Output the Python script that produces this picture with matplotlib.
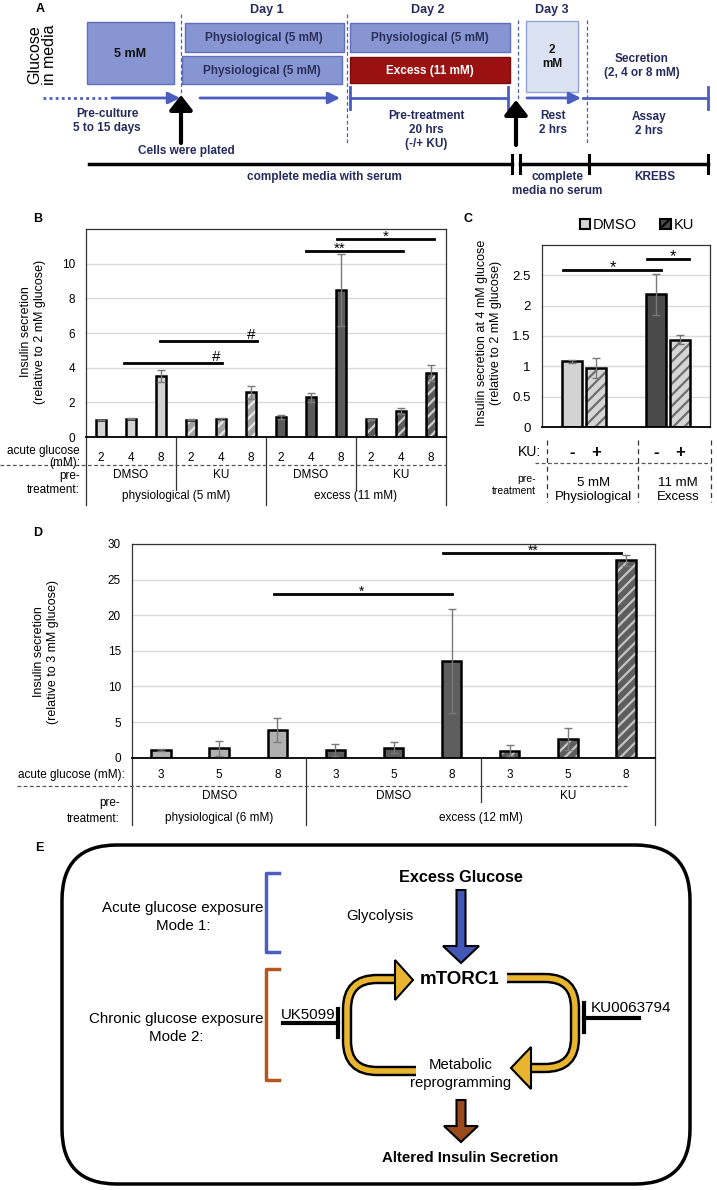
import numpy as np
import matplotlib
matplotlib.use('Agg')
import matplotlib.pyplot as plt
import matplotlib.transforms as mtransforms
from matplotlib.patches import Rectangle, FancyBboxPatch, FancyArrow, Polygon, Patch, PathPatch
from matplotlib.path import Path
from matplotlib.ticker import FuncFormatter

plt.rcParams['font.family'] = ['Liberation Sans', 'DejaVu Sans']
plt.rcParams['hatch.linewidth'] = 1.6

# ---- data ---------------------------------------------------------------
b_acute = ['2', '4', '8']
b_drugs = ['DMSO', 'KU', 'DMSO', 'KU']
b_pretreat = ['physiological (5 mM)', 'excess (11 mM)']
b_vals = [0.98, 1.05, 3.52, 1.00, 1.05, 2.57, 1.13, 2.28, 8.49, 1.02, 1.49, 3.70]
b_err = [0.02, 0.03, 0.35, 0.02, 0.05, 0.36, 0.12, 0.25, 2.07, 0.03, 0.17, 0.48]
# (x from, x to, y, label x, label)
b_sig = [(0.77, 4.03, 4.25, 3.85, '#'), (1.97, 5.2, 5.53, 5.0, '#'),
         (6.83, 10.07, 10.75, 7.97, '**'), (7.87, 11.1, 11.44, 9.5, '*')]

c_pretreat = ['5 mM\nPhysiological', '11 mM\nExcess']
c_dmso = [1.08, 2.19]
c_dmso_err = [0.02, 0.34]
c_ku = [0.97, 1.44]
c_ku_err = [0.17, 0.08]
c_sig = [(-0.25, 0.92, 2.59, 0.345, '*'), (0.75, 1.25, 2.77, 1.06, '*')]

d_acute = ['3', '5', '8']
d_drugs = ['DMSO', 'DMSO', 'KU']
d_pretreat = ['physiological (6 mM)', 'excess (12 mM)']
d_vals = [1.08, 1.32, 3.89, 1.08, 1.40, 13.6, 1.00, 2.63, 27.7]
d_err = [0.20, 1.08, 1.64, 0.84, 0.80, 7.30, 0.80, 1.57, 0.80]
d_sig = [(1.94, 5.0, 23.0, 3.45, '*'), (4.85, 7.92, 28.75, 6.4, '**')]

W, H = 717, 1190
fig = plt.figure(figsize=(W / 100, H / 100), dpi=100)
ov = fig.add_axes([0, 0, 1, 1])
ov.set_xlim(0, W)
ov.set_ylim(H, 0)
ov.axis('off')


def add_ax(left, top, right, bottom):
    return fig.add_axes([left / W, 1 - bottom / H, (right - left) / W, (bottom - top) / H])


def style_ax(ax, ylim, yticks, fs):
    ax.set_ylim(*ylim)
    ax.set_yticks(yticks)
    ax.yaxis.set_major_formatter(FuncFormatter(lambda v, p: f'{v:g}'))
    ax.set_xticks([])
    ax.tick_params(axis='y', length=0, labelsize=fs, pad=8)
    ax.grid(axis='y', color='#d9d9d9', lw=1)
    ax.set_axisbelow(True)
    for s in ax.spines.values():
        s.set_linewidth(0.9)
        s.set_color('#333333')
    ax.spines['bottom'].set_linewidth(1.3)
    ax.spines['bottom'].set_color('black')


def draw_bars(ax, x, vals, errs, faces, stripes, width):
    for xi, v, fc, sc in zip(x, vals, faces, stripes):
        ax.bar(xi, v, width, color=fc, edgecolor='none', zorder=2)
        if sc:
            ax.bar(xi, v, width, color='none', edgecolor=sc, hatch='///', linewidth=0, zorder=2.1)
        ax.bar(xi, v, width, color='none', edgecolor='black', linewidth=1.8, zorder=2.2)
    ax.errorbar(x, vals, yerr=errs, fmt='none', ecolor='#7a7a7a', elinewidth=1, capsize=3, zorder=3)


def draw_sig(ax, sig, fs):
    for x0, x1, y, lx, lab in sig:
        ax.plot([x0, x1], [y, y], color='black', lw=2, zorder=4, clip_on=False)
        off = 2 if lab == '#' else -2
        ax.annotate(lab, xy=(lx, y), xytext=(0, off), textcoords='offset pixels',
                    ha='center', va='baseline', fontsize=fs, zorder=4, annotation_clip=False)


# ======================= panel A =======================
navy = '#262b5f'
blue = '#4b5dbf'
boxfc = '#8796d2'
boxec = '#5f6fbe'
ov.text(40, 9, 'A', fontsize=9, fontweight='bold', ha='center', va='center')
ov.text(42, 55, 'Glucose\nin media', rotation=90, fontsize=11.5, ha='center', va='center', linespacing=1.0)

for (x0, y0, x1, y1, fc, ec) in [(87, 22, 174, 84, boxfc, boxec), (185, 23, 344, 52, boxfc, boxec),
                                 (182, 56, 342, 84, boxfc, boxec), (350, 23, 510, 52, boxfc, boxec),
                                 (350, 57, 510, 83, '#9b1111', '#7a0c0c'), (526, 21, 578, 92, '#dbe3f3', '#93a3d8')]:
    ov.add_patch(Rectangle((x0, y0), x1 - x0, y1 - y0, fc=fc, ec=ec, lw=1))

ov.text(130, 54, '5 mM', fontsize=9, fontweight='bold', ha='center', va='center', color='#111111')
ov.text(264, 38, 'Physiological (5 mM)', fontsize=8.5, fontweight='bold', ha='center', va='center', color='#2a2f5a')
ov.text(262, 71, 'Physiological (5 mM)', fontsize=8.5, fontweight='bold', ha='center', va='center', color='#2a2f5a')
ov.text(430, 38, 'Physiological (5 mM)', fontsize=8.5, fontweight='bold', ha='center', va='center', color='#2a2f5a')
ov.text(430, 71, 'Excess (11 mM)', fontsize=8.5, fontweight='bold', ha='center', va='center', color='white')
ov.text(552, 57, '2\nmM', fontsize=8.5, fontweight='bold', ha='center', va='center', color='#111111')
ov.text(642, 66, 'Secretion\n(2, 4 or 8 mM)', fontsize=8.5, fontweight='bold', ha='center', va='center', color=navy)
for x, lab in [(267, 'Day 1'), (428, 'Day 2'), (552, 'Day 3')]:
    ov.text(x, 10, lab, fontsize=9, fontweight='bold', ha='center', va='center', color=navy)

for x, y0, y1 in [(181, 14, 143), (347, 14, 143), (518, 20, 100), (587, 20, 145)]:
    ov.plot([x, x], [y0, y1], color=blue, lw=0.9, ls=(0, (3, 2)))

ov.plot([43, 110], [98, 98], color=blue, lw=2, ls=(0, (1, 1.2)))
blue_arrow = dict(arrowstyle='-|>,head_width=0.35,head_length=0.7', color=blue, lw=2,
                  mutation_scale=10, shrinkA=0, shrinkB=0)
for xs, xe in [(112, 180), (200, 340), (527, 581)]:
    ov.annotate('', xy=(xe, 98), xytext=(xs, 98), arrowprops=blue_arrow)
ov.plot([350, 508], [98, 98], color=blue, lw=2)
ov.plot([583, 708], [98, 98], color=blue, lw=2)
for x in [350, 508, 708]:
    ov.plot([x, x], [87, 109], color=blue, lw=2)

black_arrow = dict(arrowstyle='-|>,head_width=0.35,head_length=0.45', color='black', lw=3,
                   mutation_scale=20, shrinkA=0, shrinkB=0)
ov.annotate('', xy=(181, 95), xytext=(181, 143), arrowprops=black_arrow)
ov.annotate('', xy=(516, 100), xytext=(516, 145), arrowprops=black_arrow)

kw = dict(fontsize=8.5, fontweight='bold', ha='center', va='center', color=navy)
ov.text(107, 121, 'Pre-culture\n5 to 15 days', **kw)
ov.text(186, 151, 'Cells were plated', **kw)
ov.text(426, 130, 'Pre-treatment\n20 hrs\n(-/+ KU)', **kw)
ov.text(553, 123, 'Rest\n2 hrs', **kw)
ov.text(649, 124, 'Assay\n2 hrs', **kw)
ov.text(324, 177, 'complete media with serum', **kw)
ov.text(557, 184, 'complete\nmedia no serum', **kw)
ov.text(655, 177, 'KREBS', **kw)

ov.plot([89, 512], [164, 164], color='black', lw=2.5)
ov.plot([520, 708], [164, 164], color='black', lw=2.5)
for x in [512, 520, 589, 708]:
    ov.plot([x, x], [155, 173], color='black', lw=2.2)

# ======================= panel B =======================
ov.text(38, 219, 'B', fontsize=9, fontweight='bold', ha='center', va='center')
axB = add_ax(86, 229, 446, 437)
xB = np.arange(len(b_vals))
facesB = ['#d3d3d3'] * 3 + ['#a3a3a3'] * 3 + ['#5a5a5a'] * 6
stripesB = [None] * 3 + ['#e8e8e8'] * 3 + [None] * 3 + ['#d0d0d0'] * 3
draw_bars(axB, xB, b_vals, b_err, facesB, stripesB, 0.36)
axB.set_xlim(-0.5, len(b_vals) - 0.5)
style_ax(axB, (0, 12), [0, 2, 4, 6, 8, 10], 8.5)
draw_sig(axB, b_sig, 11)
ov.text(33, 332, 'Insulin secretion\n(relative to 2 mM glucose)', rotation=90, fontsize=9,
        ha='center', va='center', multialignment='center')

trB = mtransforms.blended_transform_factory(axB.transData, ov.transData)
for i in xB:
    ov.text(i, 458, b_acute[i % 3], transform=trB, ha='center', va='center', fontsize=8.5)
for g, lab in enumerate(b_drugs):
    ov.text(3 * g + 1, 475, lab, transform=trB, ha='center', va='center', fontsize=8.5)
for g, lab in enumerate(b_pretreat):
    ov.text(6 * g + 2.5, 496, lab, transform=trB, ha='center', va='center', fontsize=8.5)
for x, y1 in [(-0.5, 505), (2.5, 490), (5.5, 505), (8.5, 490), (11.5, 505)]:
    ov.plot([x, x], [437, y1], transform=trB, color='#333333', lw=0.9)
ov.plot([0, 446], [465, 465], color='#555555', lw=0.9, ls=(0, (3, 2)))
ov.text(80, 457, 'acute glucose\n(mM):', ha='right', va='center', fontsize=8.5, linespacing=1.0)
ov.text(80, 483, 'pre-\ntreatment:', ha='right', va='center', fontsize=8.5, linespacing=1.3)

# ======================= panel C =======================
ov.text(468, 219, 'C', fontsize=9, fontweight='bold', ha='center', va='center')
axC = add_ax(542, 245, 710, 427)
xC = np.arange(len(c_dmso))
off = 0.146
draw_bars(axC, xC - off, c_dmso, c_dmso_err, ['#d3d3d3', '#4a4a4a'], [None, None], 0.235)
draw_bars(axC, xC + off, c_ku, c_ku_err, ['#d6d6d6', '#d6d6d6'], ['#6e6e6e', '#6e6e6e'], 0.235)
axC.set_xlim(-0.5, 1.5)
style_ax(axC, (0, 3), [0, 0.5, 1, 1.5, 2, 2.5], 9.5)
draw_sig(axC, c_sig, 12)
ov.text(489, 333, 'Insulin secretion at 4 mM glucose\n(relative to 2 mM glucose)', rotation=90,
        fontsize=9, ha='center', va='center', multialignment='center')
handles = [Patch(fc='#d3d3d3', ec='black', lw=1.5),
           Patch(fc='#4a4a4a', ec='#d0d0d0', hatch='///', lw=0)]
leg = ov.legend(handles, ['DMSO', 'KU'], loc='center', bbox_to_anchor=(637, 225),
                bbox_transform=ov.transData, ncol=2, frameon=False, fontsize=10.5,
                handlelength=0.7, handleheight=0.7, handletextpad=0.2, columnspacing=1.6)
for h in leg.legend_handles:
    h.set_edgecolor('black')
    h.set_linewidth(1.5)

trC = mtransforms.blended_transform_factory(axC.transData, ov.transData)
for i in xC:
    ov.text(i - off, 452, '-', transform=trC, ha='center', va='center', fontsize=12, fontweight='bold')
    ov.text(i + off, 452, '+', transform=trC, ha='center', va='center', fontsize=12, fontweight='bold')
for x, lab in zip([594, 678], c_pretreat):
    ov.text(x, 490, lab, ha='center', va='center', fontsize=9.5)
ov.text(541, 452, 'KU:', ha='right', va='center', fontsize=10)
ov.text(536, 485, 'pre-\ntreatment', ha='right', va='center', fontsize=7.5, linespacing=1.2)
for x in [547, 638, 711]:
    ov.plot([x, x], [440, 502], color='#333333', lw=0.9, ls=(0, (4, 3)))
ov.plot([535, 711], [463, 463], color='#555555', lw=0.9, ls=(0, (3, 2)))

# ======================= panel D =======================
ov.text(38, 533, 'D', fontsize=9, fontweight='bold', ha='center', va='center')
axD = add_ax(132, 544, 655, 757.7)
xD = np.arange(len(d_vals))
facesD = ['#b0b0b0'] * 3 + ['#5e5e5e'] * 6
stripesD = [None] * 6 + ['#c4c4c4'] * 3
draw_bars(axD, xD, d_vals, d_err, facesD, stripesD, 0.335)
axD.set_xlim(-0.5, len(d_vals) - 0.5)
style_ax(axD, (0, 30), [0, 5, 10, 15, 20, 25, 30], 8.5)
draw_sig(axD, d_sig, 10)
ov.text(46, 652, 'Insulin secretion\n(relative to 3 mM glucose)', rotation=90, fontsize=9,
        ha='center', va='center', multialignment='center')

trD = mtransforms.blended_transform_factory(axD.transData, ov.transData)
for i in xD:
    ov.text(i, 775, d_acute[i % 3], transform=trD, ha='center', va='center', fontsize=8.5)
for g, lab in enumerate(d_drugs):
    ov.text(3 * g + 1, 796, lab, transform=trD, ha='center', va='center', fontsize=8.5)
ov.text(1, 818, d_pretreat[0], transform=trD, ha='center', va='center', fontsize=8.5)
ov.text(5.5, 818, d_pretreat[1], transform=trD, ha='center', va='center', fontsize=8.5)
for x, y1 in [(-0.5, 825), (2.5, 825), (5.5, 802), (8.5, 825)]:
    ov.plot([x, x], [757.7, y1], transform=trD, color='#333333', lw=0.9)
ov.plot([17, 628], [786, 786], color='#555555', lw=0.9, ls=(0, (3, 2)))
ov.text(125, 775, 'acute glucose (mM):', ha='right', va='center', fontsize=8.5)
ov.text(120, 811, 'pre-\ntreatment:', ha='right', va='center', fontsize=8.5, linespacing=1.4)

# ======================= panel E =======================
ov.text(39, 848, 'E', fontsize=9, fontweight='bold', ha='center', va='center')
ov.add_patch(FancyBboxPatch((62, 845), 628, 339, boxstyle='round,pad=0,rounding_size=55',
                            fc='none', ec='black', lw=2.5))

ov.plot([279, 266, 266, 279], [873, 873, 952, 952], color='#4a5fc1', lw=2.5)
ov.plot([279, 266, 266, 279], [969, 969, 1080, 1080], color='#b5561f', lw=2.5)
ov.text(183, 917, 'Acute glucose exposure\nMode 1:', fontsize=10.9,
        ha='center', va='center', linespacing=1.35)
ov.text(176, 1028, 'Chronic glucose exposure\nMode 2:', fontsize=10.9,
        ha='center', va='center', linespacing=1.35)

ov.text(461, 877, 'Excess Glucose', fontsize=11.7, fontweight='bold', ha='center', va='center')
ov.text(380, 916, 'Glycolysis', fontsize=10.7, ha='center', va='center')
ov.add_patch(FancyArrow(461, 890, 0, 73, width=9, head_width=36, head_length=17,
                        length_includes_head=True, fc='#4257b8', ec='black', lw=1.5))
ov.text(460, 979, 'mTORC1', fontsize=13.5, fontweight='bold', ha='center', va='center')


def rounded_path(pts, r):
    pts = np.asarray(pts, float)
    verts, codes = [pts[0]], [Path.MOVETO]
    for i in range(1, len(pts) - 1):
        p, a, b = pts[i], pts[i - 1], pts[i + 1]
        p1 = p + r * (a - p) / np.linalg.norm(a - p)
        p2 = p + r * (b - p) / np.linalg.norm(b - p)
        verts += [p1, p, p2]
        codes += [Path.LINETO, Path.CURVE3, Path.CURVE3]
    verts.append(pts[-1])
    codes.append(Path.LINETO)
    return Path(verts, codes)


gold = '#e9b52f'
for pts in [[(416, 1071), (347, 1071), (347, 979), (397, 979)],
            [(507, 978), (575, 978), (575, 1068), (530, 1068)]]:
    pth = rounded_path(pts, 30)
    ov.add_patch(PathPatch(pth, fill=False, ec='black', lw=7.5, capstyle='butt'))
    ov.add_patch(PathPatch(pth, fill=False, ec=gold, lw=4.0, capstyle='butt'))
ov.add_patch(Polygon([(395, 960), (413, 980), (395, 1000)], closed=True, fc=gold, ec='black', lw=1.5))
ov.add_patch(Polygon([(531, 1047), (511, 1068), (531, 1089)], closed=True, fc=gold, ec='black', lw=1.5))

ov.plot([283, 338], [1023, 1023], color='black', lw=3)
ov.plot([338, 338], [1009, 1037], color='black', lw=3)
ov.text(281, 1019, 'UK5099', fontsize=10.8, ha='left', va='baseline')
ov.plot([584, 639], [1018, 1018], color='black', lw=3)
ov.plot([584, 584], [1003, 1032], color='black', lw=3)
ov.text(591, 1008, 'KU0063794', fontsize=11, ha='left', va='center')

ov.text(461, 1074, 'Metabolic\nreprogramming', fontsize=10.7, ha='center', va='center',
        linespacing=1.4)
ov.add_patch(FancyArrow(461, 1100, 0, 42, width=9, head_width=34, head_length=16,
                        length_includes_head=True, fc='#9a4a1c', ec='black', lw=1.5))
ov.text(470, 1158, 'Altered Insulin Secretion', fontsize=10.8, fontweight='bold',
        ha='center', va='center')

fig.savefig('out.png', dpi=100)
